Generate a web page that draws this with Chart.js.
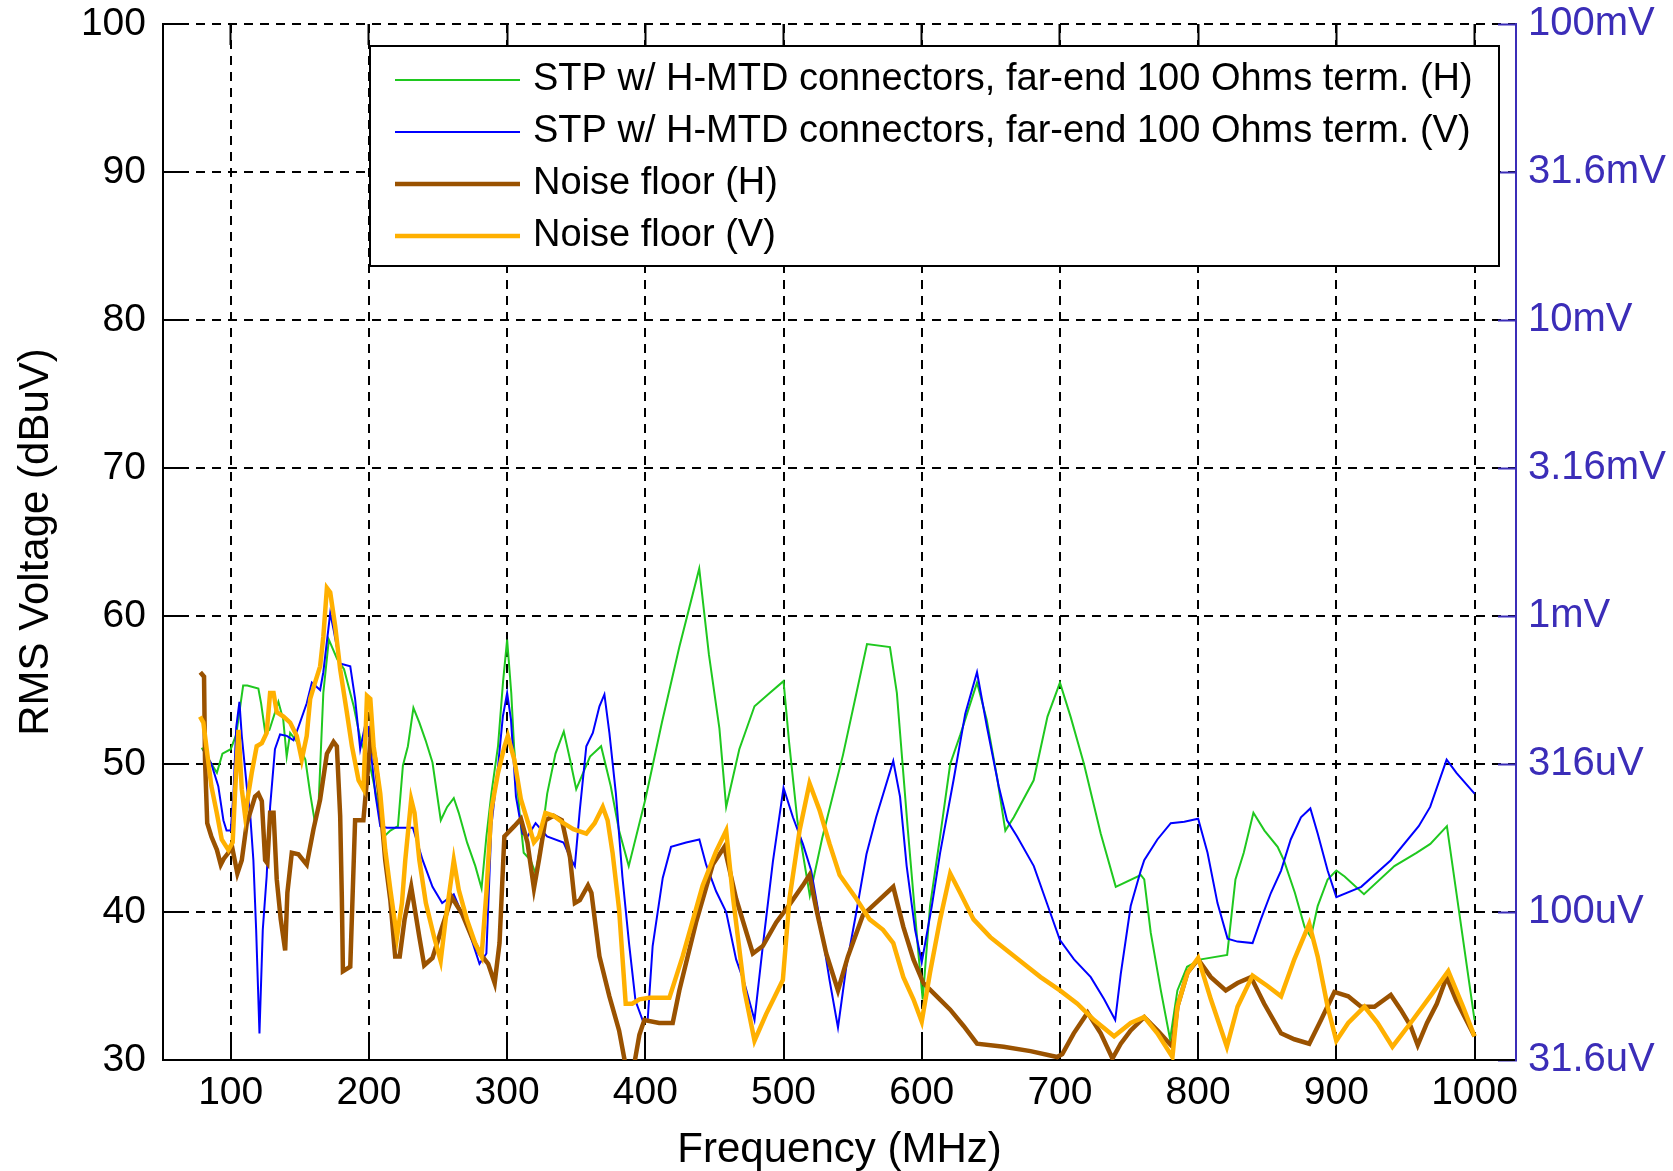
<!DOCTYPE html>
<html>
<head>
<meta charset="utf-8">
<script src="https://cdn.jsdelivr.net/npm/chart.js@4.4.1/dist/chart.umd.min.js"></script>
<style>
  html, body { margin: 0; padding: 0; background: #fff; }
</style>
</head>
<body>
<canvas id="grafico" width="1673" height="1171"></canvas>
<script>
// Datos (frecuencia en MHz, nivel en dBuV)
const stpHFreq = [79, 90, 94, 100, 104, 109, 112, 120, 122, 125, 128, 134.5, 138, 140.5, 143, 148, 154, 157.5, 161, 163.5, 167, 171, 177, 182, 189, 194, 201, 208, 211, 215.5, 221, 224.6, 228.2, 232.2, 236.5, 241, 246, 252, 256.6, 261.4, 265, 271, 277, 281.5, 285, 288.6, 293.4, 297, 300, 303, 305, 309, 312, 317, 320.6, 324, 329, 335, 341, 345.5, 350, 355, 360, 368, 375, 381, 388, 400, 412, 424.6, 439, 446, 453.6, 458.5, 468, 479, 490, 500, 504, 510, 519, 528, 543, 553, 560.4, 577, 582, 590, 597.6, 600.7, 606, 613, 620.6, 628, 640, 647, 654.5, 660.5, 666.6, 681, 691, 700, 707.7, 717.4, 729.5, 740.4, 758.5, 761, 765.7, 773, 779.7, 785, 792, 802, 821, 827, 833, 840, 848, 857.5, 862, 870, 877, 881.6, 886.5, 893.7, 900, 906, 920, 942, 958, 968, 980, 989, 1000];
const stpHLevel = [51.1, 49.4, 50.7, 51, 52, 55.3, 55.3, 55.1, 54.1, 52.1, 52.3, 54.2, 53, 50.5, 52.1, 51.5, 50.3, 48, 46, 47.1, 54.8, 58.4, 57.1, 56.4, 53.9, 51.6, 49.8, 46.7, 45.1, 45.5, 45.8, 49.9, 51.2, 53.8, 52.8, 51.6, 50.1, 46.2, 47.1, 47.7, 46.7, 44.7, 43.1, 41.6, 45.1, 48, 51.2, 55.5, 58.4, 54.8, 51.2, 46.7, 44, 43.5, 42.6, 44.4, 48, 50.7, 52.2, 50.3, 48.3, 49.4, 50.5, 51.2, 48.5, 45.5, 43.1, 47.6, 52.8, 57.9, 63.2, 57.4, 52.4, 47.1, 51, 53.9, 54.8, 55.6, 51.5, 46.2, 41.1, 45, 50.6, 54.9, 58.1, 57.9, 54.8, 45.5, 37.2, 34.1, 40.4, 44.9, 50, 52, 55.5, 53, 49.1, 45.5, 46.4, 48.9, 53.2, 55.5, 53.2, 50, 45.3, 41.7, 42.5, 42.2, 38.6, 34.7, 31.4, 34.7, 36.3, 36.8, 37.1, 42.2, 44, 46.7, 45.5, 44.4, 43.5, 41.3, 39, 38.3, 40.4, 42.2, 42.8, 42.4, 41.2, 43.1, 44, 44.6, 45.8, 39.9, 32.7];

const stpVFreq = [80, 86, 91, 94.7, 97, 100, 102, 104, 106.3, 108, 111.6, 114, 116.4, 118.4, 120.8, 123.2, 126, 128.5, 132, 135.7, 140.6, 145.4, 149, 155, 158.7, 164.7, 167, 172, 174.4, 179, 186.5, 190, 193.7, 197, 199.8, 201, 204.6, 208.2, 213, 231.8, 238.9, 246, 253, 261.4, 265, 272, 280, 285, 288.6, 293.4, 296.9, 300, 302.8, 306.4, 311.1, 314.7, 320.6, 328.9, 340.8, 345.5, 349, 352.6, 357.3, 362, 366.8, 370.4, 374, 378.7, 383.4, 388.2, 392.9, 398, 401.7, 405.3, 412.6, 418.6, 429.5, 439.1, 444, 451.2, 458.5, 465.7, 471.7, 479, 485, 492.3, 500, 506.8, 514, 520, 527.3, 533.3, 539.4, 545.4, 552.7, 560, 567, 579.4, 584.3, 589.1, 595.2, 600, 607.3, 613.3, 623, 631.5, 640, 647.2, 655.7, 661.7, 669, 681.1, 693.2, 700, 710.2, 722.3, 732, 740, 744, 751.2, 758.5, 761, 770.5, 780.2, 790, 800, 806.8, 814, 821.3, 828.5, 839.4, 845.4, 852.7, 860, 867, 874.4, 881.2, 886.5, 893.7, 900, 918, 939.4, 959.6, 967.9, 979.8, 986.9, 1000];
const stpVLevel = [51, 50, 48.5, 46.2, 45.5, 45.5, 48, 52.5, 54.2, 51.9, 48.5, 46.7, 43.5, 38.8, 31.8, 38.8, 42.4, 47.1, 51, 52, 51.9, 51.6, 52.5, 54.1, 55.5, 55, 56.2, 60.2, 59.1, 56.8, 56.6, 54.4, 51, 52.5, 52.5, 51.2, 48, 45.8, 45.7, 45.7, 43.5, 41.7, 40.6, 41.2, 40.4, 38.8, 36.5, 37.2, 45.8, 49.8, 53.2, 54.8, 53, 47.8, 45.3, 45.1, 46, 45.1, 44.7, 43.7, 43.1, 46.9, 51.2, 52.1, 53.9, 54.7, 52.1, 48, 42.4, 37.9, 34, 32.7, 32.7, 37.7, 42.3, 44.4, 44.7, 44.9, 43.2, 41.4, 40, 36.8, 35.2, 32.7, 37.7, 43.4, 48.4, 46.4, 44.6, 42.8, 38.9, 35.4, 32.2, 36.3, 40, 43.9, 46.4, 50.2, 47.8, 43.1, 38.8, 36.6, 40.4, 44, 48.9, 53.4, 56.2, 52.5, 48.5, 46.2, 45.1, 43.1, 39.9, 38.1, 36.8, 35.6, 34.1, 32.7, 35.8, 40.4, 42.8, 43.5, 44.9, 46, 46.1, 46.3, 44, 40.6, 38.2, 38, 37.9, 39.5, 41.3, 42.8, 44.9, 46.4, 47, 45.3, 42.8, 41, 41.7, 43.5, 45.8, 47.1, 50.3, 49.4, 48];

const ruidoHFreq = [78, 80.7, 81.4, 83, 86, 90, 92.8, 95, 98.3, 101, 104.8, 108, 111.6, 114, 117.6, 120, 122.5, 124.9, 126.5, 128.5, 131, 133.3, 136.2, 139.4, 141, 144.2, 149, 155, 159.9, 164.7, 169.6, 174.4, 176.8, 179.2, 180.4, 181.2, 186.5, 187.7, 190, 196, 201.4, 204.6, 208.2, 211.8, 215.5, 219, 222.3, 225.8, 230.6, 236.5, 240, 246, 253, 260, 267.3, 274.4, 280.3, 286.3, 291, 294.5, 298, 305.2, 310, 314.7, 319.4, 323, 327.7, 333.6, 339.6, 345.5, 349, 352.6, 358.5, 361, 366.8, 374, 381, 386, 391, 395.7, 399.3, 410, 419.8, 424.6, 436.7, 448.8, 457.2, 465.7, 477.8, 485, 494.7, 504.3, 514, 518.8, 523.7, 530.9, 539.4, 546.6, 557.5, 579.4, 586.7, 594, 601.2, 610.9, 620.6, 630.3, 640, 659.3, 678.7, 698, 701.7, 710, 720, 729.5, 738, 744, 751.2, 761, 770.5, 781.4, 785, 792.3, 800, 809.2, 820, 828.5, 838.2, 847.8, 860, 869.6, 880.4, 888.9, 898.6, 908.6, 917.9, 927.6, 939.4, 946.6, 953.7, 958.9, 965.6, 972.7, 979.8, 986.9, 1000];
const ruidoHLevel = [56.2, 55.9, 50.3, 46, 45.1, 44.2, 43.2, 43.6, 44, 44.4, 42.6, 43.5, 46, 46.7, 47.8, 48, 47.5, 43.5, 43.3, 46.7, 46.7, 42.2, 39.5, 37.4, 41.3, 44, 43.9, 43.2, 45.6, 47.6, 50.7, 51.5, 51.2, 46.5, 41, 36, 36.3, 39.7, 46.2, 46.2, 51.9, 50.3, 47.4, 43.5, 40.8, 37, 37, 39.5, 41.7, 38.3, 36.4, 36.9, 39, 41, 39.9, 38.3, 37.2, 36.5, 35.2, 37.9, 45.1, 45.8, 46.3, 44.7, 41.6, 43.5, 46.2, 46.5, 46.2, 43.7, 40.6, 40.8, 41.8, 41.3, 37, 34.3, 32, 29.5, 29.2, 31.7, 32.7, 32.5, 32.5, 34.7, 39.3, 43.2, 44.4, 40.9, 37.2, 37.7, 39.3, 40.5, 41.8, 42.5, 40.2, 37.2, 34.7, 37, 39.8, 41.7, 39, 36.8, 35.2, 34.3, 33.4, 32.3, 31.1, 30.9, 30.6, 30.2, 30.4, 31.8, 33.2, 31.8, 30.1, 31.1, 32, 32.9, 32, 30.9, 33.6, 35.9, 36.8, 35.6, 34.7, 35.2, 35.6, 33.8, 31.8, 31.4, 31.1, 32.7, 34.6, 34.3, 33.6, 33.6, 34.4, 33.4, 32.3, 31, 32.5, 33.8, 35.6, 34, 31.6];

const ruidoVFreq = [77.8, 80.2, 83, 86, 89.9, 93.5, 98.3, 101.4, 103.1, 105.6, 108, 110.4, 112.8, 115.2, 118.8, 122.5, 126, 128.5, 131, 133.3, 138.2, 143, 147.8, 151.4, 155, 157.5, 161, 164.7, 167, 169.6, 172, 175.6, 179.2, 184, 187.7, 192.5, 196.1, 198.6, 201, 203.4, 208.2, 211.8, 215.5, 220.3, 223.9, 226.3, 230.6, 233, 236.5, 241.2, 247.2, 251.9, 255.5, 261.4, 265, 270.9, 276.8, 281.5, 285, 288.6, 293.4, 298.1, 300.5, 305.2, 310, 315.9, 319.4, 323, 327.7, 333.6, 340.8, 347.9, 357.3, 363.3, 369.2, 372.7, 376.3, 381, 385.8, 390.5, 395.7, 402.9, 417.4, 427, 441.5, 451.2, 458.5, 463.3, 471.7, 479, 487.4, 499.5, 504.3, 511.6, 518.8, 526, 533.3, 540.6, 552.7, 562.3, 572, 579.4, 586.7, 594, 600, 606, 613.3, 620.6, 627.8, 637.5, 649.6, 661.7, 673.8, 686, 700, 712.6, 724.7, 739.2, 751.2, 761, 770.5, 781.4, 785, 792.3, 800, 809.2, 820.8, 828.5, 839.4, 850.2, 860, 869.6, 880.4, 886.5, 893.7, 900, 908.6, 920.4, 929.9, 940.6, 953.7, 967.9, 981, 991.7, 1000];
const ruidoVLevel = [53.2, 52.8, 50.7, 48.5, 46.7, 44.9, 44.2, 44.7, 48, 52.3, 48.3, 46.5, 48, 49.4, 51.2, 51.4, 52.1, 54.8, 54.8, 53.5, 53.2, 52.8, 51.9, 50.3, 51.9, 54.4, 55.5, 56.6, 58.6, 61.9, 61.6, 59.3, 56.4, 53.5, 51.2, 48.9, 48.3, 54.6, 54.4, 51.2, 48, 44.2, 41.5, 38.3, 40.6, 43.5, 47.6, 46.7, 43.5, 40.6, 38.3, 36.7, 39.5, 43.5, 41.5, 39.5, 37.9, 37, 41.3, 46.9, 49.4, 51.2, 51.9, 50.3, 47.6, 45.8, 44.7, 45.1, 46.7, 46.5, 46, 45.6, 45.3, 46, 47.1, 46.2, 44, 40.2, 33.8, 33.8, 34.1, 34.2, 34.2, 37, 41.8, 44.1, 45.5, 41.1, 34.7, 31.3, 33.1, 35.4, 40.9, 45.5, 48.7, 46.9, 44.6, 42.5, 40.9, 39.5, 38.8, 37.9, 35.6, 34.1, 32.6, 35.9, 39.5, 42.6, 41.3, 39.5, 38.3, 37.4, 36.5, 35.6, 34.7, 33.8, 32.7, 31.6, 32.5, 32.9, 31.8, 30.2, 33.6, 35.9, 36.9, 34.1, 30.9, 33.6, 35.7, 35, 34.3, 36.8, 39.2, 37, 33.6, 31.3, 32.5, 33.6, 32.5, 30.9, 32.5, 34.3, 36, 33.6, 31.6];

const etiquetas = [
  'STP w/ H-MTD connectors, far-end 100 Ohms term. (H)',
  'STP w/ H-MTD connectors, far-end 100 Ohms term. (V)',
  'Noise floor (H)',
  'Noise floor (V)'
];
const ticksFrecuencia = [100, 200, 300, 400, 500, 600, 700, 800, 900, 1000];
const ticksDb = [30, 40, 50, 60, 70, 80, 90, 100];
const ticksVoltaje = ['31.6uV', '100uV', '316uV', '1mV', '3.16mV', '10mV', '31.6mV', '100mV'];

const fuente = 'Liberation Sans, Arial, sans-serif';
const azulEje = '#3b2db8';

const puntos = (xs, ys) => xs.map((x, i) => ({ x: x, y: ys[i] }));
const fijarTicks = valores => scale => { scale.ticks = valores.map(v => ({ value: v })); };
// tamaño fijo de cada eje, sin el relleno extra de las etiquetas
const fijarAncho = w => s => { s.width = w; s.paddingTop = 0; s.paddingBottom = 0; };
const fijarAlto = h => s => { s.height = h; s.paddingLeft = 0; s.paddingRight = 0; };

// Leyenda dentro del área del gráfico, con caja negra
const leyendaCaja = {
  id: 'leyendaCaja',
  afterDraw(chart) {
    const ctx = chart.ctx;
    ctx.save();
    ctx.fillStyle = '#fff';
    ctx.fillRect(370, 46, 1129, 220);
    ctx.strokeStyle = '#000';
    ctx.lineWidth = 2;
    ctx.strokeRect(370, 46, 1129, 220);
    ctx.font = '38px ' + fuente;
    ctx.textBaseline = 'middle';
    chart.data.datasets.forEach((ds, i) => {
      const y = 80 + i * 52;
      ctx.beginPath();
      ctx.strokeStyle = ds.borderColor;
      ctx.lineWidth = ds.borderWidth;
      ctx.moveTo(395, y);
      ctx.lineTo(520, y);
      ctx.stroke();
      ctx.fillStyle = '#000';
      ctx.fillText(ds.label, 533, y);
    });
    ctx.restore();
  }
};

const lineaGrid = {
  color: '#000',
  lineWidth: 2,
  tickLength: -21,
  tickColor: '#000',
  tickWidth: 2,
  tickBorderDash: []
};

new Chart(document.getElementById('grafico').getContext('2d'), {
  type: 'line',
  data: {
    datasets: [
      { label: etiquetas[0], data: puntos(stpHFreq, stpHLevel), borderColor: '#1fc81f', borderWidth: 2, order: 4 },
      { label: etiquetas[1], data: puntos(stpVFreq, stpVLevel), borderColor: '#0000ff', borderWidth: 2, order: 3 },
      { label: etiquetas[2], data: puntos(ruidoHFreq, ruidoHLevel), borderColor: '#9a5200', borderWidth: 4.5, order: 2 },
      { label: etiquetas[3], data: puntos(ruidoVFreq, ruidoVLevel), borderColor: '#ffb000', borderWidth: 4.5, order: 1 }
    ]
  },
  options: {
    responsive: false,
    animation: false,
    devicePixelRatio: 1,
    layout: { padding: 0 },
    elements: { point: { radius: 0 }, line: { tension: 0, fill: false } },
    plugins: { legend: { display: false }, tooltip: { enabled: false } },
    scales: {
      x: {
        type: 'linear',
        position: 'bottom',
        min: 51,
        max: 1030,
        afterBuildTicks: fijarTicks(ticksFrecuencia),
        afterFit: fijarAlto(111),
        grid: lineaGrid,
        border: { display: true, color: '#000', width: 2, dash: [9, 7] },
        ticks: { color: '#000', font: { family: fuente, size: 39 }, padding: 31, maxRotation: 0, autoSkip: false, callback: v => String(v) },
        title: { display: true, text: 'Frequency (MHz)', color: '#000', font: { family: fuente, size: 42, lineHeight: 1.0 }, padding: { top: 0, bottom: 0 } }
      },
      xArriba: {
        type: 'linear',
        position: 'top',
        min: 51,
        max: 1030,
        afterBuildTicks: fijarTicks(ticksFrecuencia),
        afterFit: fijarAlto(24),
        grid: { drawOnChartArea: false, tickLength: -21, tickColor: '#000', tickWidth: 2 },
        border: { display: false },
        ticks: { display: false }
      },
      y: {
        type: 'linear',
        position: 'left',
        min: 30,
        max: 100,
        afterBuildTicks: fijarTicks(ticksDb),
        afterFit: fijarAncho(163),
        grid: lineaGrid,
        border: { display: true, color: '#000', width: 2, dash: [9, 7] },
        ticks: { color: '#000', font: { family: fuente, size: 39 }, padding: 38 },
        title: { display: true, text: 'RMS Voltage (dBuV)', color: '#000', font: { family: fuente, size: 42, lineHeight: 1.1 }, padding: { top: 13, bottom: 0 } }
      },
      yDerecha: {
        type: 'linear',
        position: 'right',
        min: 30,
        max: 100,
        afterBuildTicks: fijarTicks(ticksDb),
        afterFit: fijarAncho(157),
        grid: { drawOnChartArea: false, tickLength: -18, tickColor: azulEje, tickWidth: 2 },
        border: { display: true, color: azulEje, width: 2 },
        ticks: {
          color: azulEje,
          font: { family: fuente, size: 40 },
          padding: 30,
          callback: (v, i) => ticksVoltaje[i]
        }
      }
    }
  },
  plugins: [leyendaCaja]
});
</script>
</body>
</html>
